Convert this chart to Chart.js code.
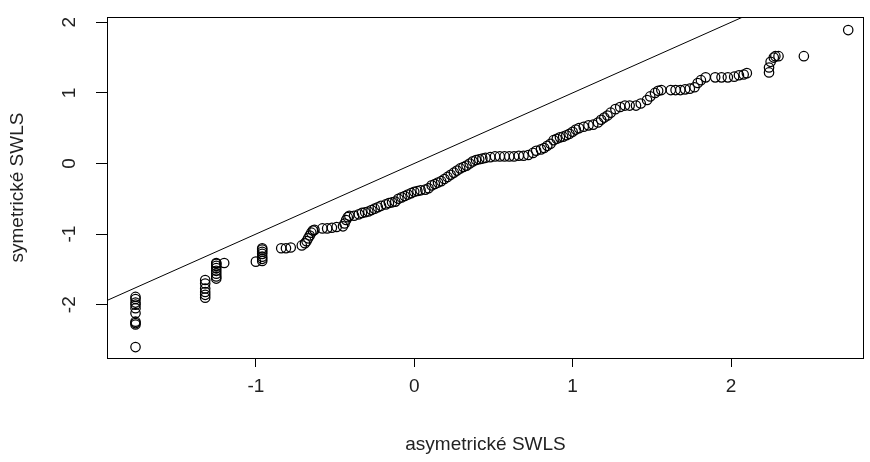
<!DOCTYPE html>
<html>
<head>
<meta charset="utf-8">
<script src="https://cdn.jsdelivr.net/npm/chart.js@4"></script>
<style>
  html, body { margin: 0; padding: 0; background: #fff; }
  canvas { display: block; }
</style>
</head>
<body>
<canvas id="qq" width="870" height="462"></canvas>
<script>
// sorted quantiles (qqplot asymetricke vs symetricke SWLS)
const qqX = [
  -1.76, -1.76, -1.76, -1.76, -1.76, -1.76, -1.76, -1.76, -1.76, -1.76,
  -1.32, -1.32, -1.32, -1.32, -1.32, -1.32,
  -1.25, -1.25, -1.25, -1.25, -1.25, -1.25, -1.25, -1.25, -1.2,
  -1.0, -0.96, -0.96, -0.96, -0.96, -0.96, -0.96, -0.96,
  -0.84, -0.81, -0.78,
  -0.71, -0.69, -0.68, -0.67, -0.66, -0.65, -0.64, -0.63,
  -0.58, -0.55, -0.52, -0.49,
  -0.45, -0.44, -0.43, -0.42, -0.41, -0.38, -0.35, -0.33, -0.31, -0.29,
  -0.27, -0.25, -0.23, -0.21, -0.18, -0.16, -0.14, -0.12, -0.1, -0.08,
  -0.06, -0.04, -0.02, 0.0, 0.02, 0.04, 0.07, 0.09, 0.11, 0.13,
  0.15, 0.17, 0.19, 0.21, 0.23, 0.25, 0.27, 0.29, 0.31, 0.33,
  0.35, 0.37, 0.39, 0.41, 0.43, 0.45,
  0.48, 0.51, 0.54, 0.57, 0.6, 0.63, 0.66, 0.69, 0.72,
  0.75, 0.77, 0.8, 0.82, 0.84, 0.86, 0.88, 0.9, 0.92, 0.94,
  0.96, 0.98, 1.0, 1.02, 1.04, 1.07, 1.1, 1.13, 1.16, 1.18,
  1.2, 1.22, 1.24, 1.27, 1.3, 1.33, 1.36, 1.4, 1.43, 1.47,
  1.49, 1.52, 1.54, 1.56,
  1.62, 1.65, 1.68, 1.71, 1.74, 1.77, 1.79, 1.81, 1.84, 1.9,
  1.94, 1.98, 2.02, 2.05, 2.08, 2.1,
  2.24, 2.24, 2.25, 2.27, 2.28, 2.3, 2.46, 2.74
];
const qqY = [
  -2.6, -2.28, -2.26, -2.24, -2.12, -2.05, -2.0, -1.97, -1.92, -1.89,
  -1.9, -1.86, -1.82, -1.77, -1.7, -1.65,
  -1.63, -1.6, -1.56, -1.52, -1.48, -1.45, -1.42, -1.41, -1.41,
  -1.39, -1.38, -1.35, -1.32, -1.28, -1.25, -1.22, -1.2,
  -1.2, -1.2, -1.19,
  -1.16, -1.13, -1.1, -1.06, -1.02, -0.98, -0.95, -0.94,
  -0.92, -0.92, -0.91, -0.9,
  -0.89, -0.85, -0.8, -0.76, -0.74, -0.74, -0.72, -0.7, -0.69, -0.68,
  -0.66, -0.64, -0.62, -0.6, -0.58, -0.56, -0.55, -0.54, -0.5, -0.48,
  -0.46, -0.44, -0.42, -0.4, -0.39, -0.38, -0.37, -0.35, -0.31, -0.29,
  -0.27, -0.25, -0.22, -0.19, -0.16, -0.13, -0.1, -0.07, -0.05, -0.03,
  0.0, 0.03, 0.05, 0.06, 0.07, 0.08,
  0.09, 0.1, 0.1, 0.1, 0.1, 0.1, 0.11, 0.11, 0.12,
  0.15, 0.18, 0.2, 0.22, 0.25, 0.28, 0.33, 0.35, 0.37, 0.38,
  0.4, 0.42, 0.45, 0.48, 0.5, 0.52, 0.54, 0.55, 0.58, 0.62,
  0.65, 0.68, 0.72, 0.77, 0.8, 0.82, 0.82, 0.82, 0.85, 0.9,
  0.95, 1.0, 1.03, 1.04,
  1.04, 1.04, 1.04, 1.05, 1.06, 1.08, 1.14, 1.18, 1.22, 1.22,
  1.22, 1.22, 1.23, 1.25, 1.26, 1.28,
  1.29, 1.36, 1.44, 1.5, 1.52, 1.52, 1.52, 1.89
];
const xTicks = [-1, 0, 1, 2];
const yTicks = [-2, -1, 0, 1, 2];
const xRange = [-1.94, 2.84];
const yRange = [-2.755, 2.075];

const points = qqX.map((x, i) => ({ x: x, y: qqY[i] }));
// reference line y = x across the whole x range
const diagonal = xRange.map(v => ({ x: v, y: v }));

const FONT = '"Liberation Sans", Arial, sans-serif';

const frame = {
  id: 'frame',
  afterDraw(chart) {
    const ctx = chart.ctx, a = chart.chartArea, ys = chart.scales.y;
    ctx.save();
    ctx.strokeStyle = '#000';
    ctx.lineWidth = 1;
    ctx.strokeRect(Math.round(a.left) + 0.5, Math.round(a.top) + 0.5,
      Math.round(a.right - a.left) - 1, Math.round(a.bottom - a.top));
    // rotated y tick labels, like R's las = 0
    ctx.fillStyle = '#222';
    ctx.font = '19px ' + FONT;
    ctx.textAlign = 'center';
    ctx.textBaseline = 'middle';
    yTicks.forEach(v => {
      ctx.save();
      ctx.translate(70, ys.getPixelForValue(v));
      ctx.rotate(-Math.PI / 2);
      ctx.fillText(String(v), 0, 0);
      ctx.restore();
    });
    ctx.restore();
  }
};

new Chart(document.getElementById('qq'), {
  type: 'scatter',
  data: {
    datasets: [{
      data: points,
      pointStyle: 'circle',
      pointRadius: 4.7,
      pointBorderWidth: 1.25,
      pointBorderColor: '#000',
      pointBackgroundColor: 'rgba(0,0,0,0)',
      showLine: false
    }, {
      type: 'line',
      data: diagonal,
      borderColor: '#000',
      borderWidth: 1,
      pointRadius: 0,
      fill: false
    }]
  },
  options: {
    responsive: false,
    animation: false,
    devicePixelRatio: 1,
    layout: { padding: { top: 17, right: 2, left: 0, bottom: 0 } },
    plugins: { legend: { display: false }, tooltip: { enabled: false } },
    scales: {
      x: {
        type: 'linear',
        min: xRange[0],
        max: xRange[1],
        afterBuildTicks: s => { s.ticks = xTicks.map(v => ({ value: v })); },
        afterFit: s => { s.height = 104; },
        grid: { drawOnChartArea: false, drawTicks: true, tickLength: 9, color: '#000' },
        border: { display: false },
        ticks: { color: '#222', font: { family: FONT, size: 19 }, padding: 8, maxRotation: 0 },
        title: { display: true, text: 'asymetrické SWLS', color: '#222',
                 font: { family: FONT, size: 19 }, padding: { top: 0, bottom: 6 } }
      },
      y: {
        type: 'linear',
        min: yRange[0],
        max: yRange[1],
        afterBuildTicks: s => { s.ticks = yTicks.map(v => ({ value: v })); },
        afterFit: s => { s.width = 107; },
        grid: { drawOnChartArea: false, drawTicks: true, tickLength: 11, color: '#000' },
        border: { display: false },
        ticks: { callback: () => '' },
        title: { display: true, text: 'symetrické SWLS', color: '#222',
                 font: { family: FONT, size: 19 }, padding: { top: 6, bottom: 0 } }
      }
    }
  },
  plugins: [frame]
});
</script>
</body>
</html>
